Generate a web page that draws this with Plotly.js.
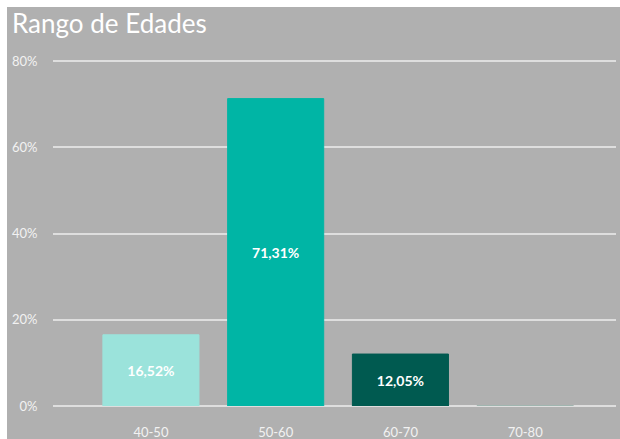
<!DOCTYPE html>
<html>
<head>
<meta charset="utf-8">
<script src="https://cdn.plot.ly/plotly-3.0.1.min.js"></script>
<style>
  html, body { margin: 0; padding: 0; background: #ffffff; }
  #chart { position: absolute; left: 7px; top: 7px; width: 613px; height: 432px; }
</style>
</head>
<body>
<div id="chart"></div>
<script>
const categories = ['40-50', '50-60', '60-70', '70-80'];
const shares = [0.1652, 0.7131, 0.1205, 0.0012];
const barColors = ['#9be3db', '#00b5a5', '#005a50', '#a0b4ae'];
const labelTemplates = ['%{y:.2%}', '%{y:.2%}', '%{y:.2%}', ''];
const yTickValues = [0, 0.2, 0.4, 0.6, 0.8];

const fontFamily = 'Lato, "Open Sans", sans-serif';

const trace = {
  type: 'bar',
  x: categories,
  y: shares,
  marker: { color: barColors, line: { color: barColors, width: 1 } },
  texttemplate: labelTemplates,
  textposition: 'inside',
  insidetextanchor: 'middle',
  textangle: 0,
  insidetextfont: { family: fontFamily, size: 14, color: '#ffffff', weight: 'bold' },
  hoverinfo: 'x+y',
  cliponaxis: false
};

const layout = {
  width: 613,
  height: 432,
  separators: ',.',
  paper_bgcolor: '#b0b0b0',
  plot_bgcolor: '#b0b0b0',
  margin: { l: 46, r: 4, t: 52, b: 33, pad: 0 },
  bargap: 0.23,
  showlegend: false,
  font: { family: fontFamily, color: '#f2f2f2' },
  title: {
    text: 'Rango de Edades',
    font: { family: fontFamily, size: 26, color: '#ffffff' },
    x: 5 / 613, xref: 'container', xanchor: 'left',
    y: 1 - 17 / 432, yref: 'container', yanchor: 'middle'
  },
  xaxis: {
    type: 'category',
    range: [-0.785, 3.728],
    showgrid: false,
    zeroline: false,
    showline: false,
    ticks: 'outside',
    ticklen: 14,
    tickcolor: 'rgba(0,0,0,0)',
    tickfont: { family: fontFamily, size: 13, color: '#f2f2f2' },
    fixedrange: true
  },
  yaxis: {
    range: [0, 0.805],
    tickvals: yTickValues,
    tickformat: '.0%',
    showgrid: true,
    gridcolor: '#dedede',
    gridwidth: 2,
    zeroline: true,
    zerolinecolor: '#dedede',
    zerolinewidth: 2,
    showline: false,
    ticks: 'outside',
    ticklen: 12,
    tickcolor: 'rgba(0,0,0,0)',
    tickfont: { family: fontFamily, size: 13, color: '#f2f2f2' },
    fixedrange: true
  }
};

Plotly.newPlot('chart', [trace], layout, { displayModeBar: false, staticPlot: true });
</script>
</body>
</html>
